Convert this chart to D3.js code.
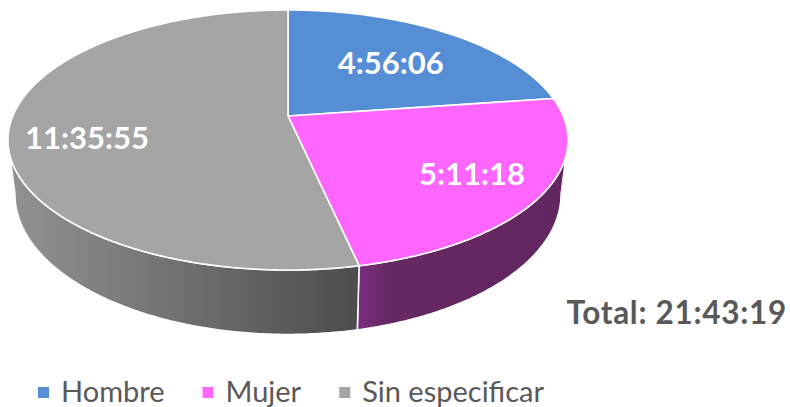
<!DOCTYPE html>
<html>
<head>
<meta charset="utf-8">
<script src="https://cdn.jsdelivr.net/npm/d3@7"></script>
<style>
  body { margin: 0; background: #fff; }
  svg { display: block; }
</style>
</head>
<body>
<div id="chart"></div>
<script>
// data
const categories = ["Hombre", "Mujer", "Sin especificar"];
const durations = ["4:56:06", "5:11:18", "11:35:55"];
const topColors = ["#558ED5", "#FF66FF", "#A5A5A5"];
// wall shading (left -> right)
const wallStops = [
  [[0, "#3c6aa3"], [1, "#2f5585"]],
  [[0, "#7b2e80"], [0.15, "#662863"], [1, "#612660"]],
  [[0, "#939393"], [1, "#4c4c4c"]]
];

const width = 790, height = 407;

// perspective ellipse for the pie top
const cx = 288, cy = 116,
      k = 0.1846,      // perspective factor
      A = 275.2,       // horizontal radius
      B = 125.6,       // vertical radius
      D = 52.5,        // thickness
      lean = 0.975;    // bottom edge slightly narrower

// label placement: radial fraction + extra dy
const labelPos = [{r: 0.62, dy: 1.5}, {r: 0.75, dy: -1}, {r: 0.724, dy: 12}];

function toSec(s) {
  const p = s.split(":").map(Number);
  return p[0] * 3600 + p[1] * 60 + p[2];
}
function fmt(sec) {
  const h = Math.floor(sec / 3600), m = Math.floor(sec % 3600 / 60), s = sec % 60;
  return h + ":" + String(m).padStart(2, "0") + ":" + String(s).padStart(2, "0");
}

const values = durations.map(toSec);
const total = d3.sum(values);

function proj(theta, r, bottom) {
  const u = r * Math.sin(theta), v = -r * Math.cos(theta);
  const w = 1 - k * v;
  let x = cx + A * u / w, y = cy + B * v / w;
  if (bottom) { x = cx + (x - cx) * lean; y += D / w; }
  return [x, y];
}
function arcPts(a0, a1, bottom) {
  const n = Math.max(4, Math.ceil(Math.abs(a1 - a0) / 0.01));
  return d3.range(n + 1).map(i => proj(a0 + (a1 - a0) * i / n, 1, bottom));
}

const svg = d3.select("#chart")
  .append("svg")
    .attr("width", width)
    .attr("height", height);

svg.append("rect").attr("width", width).attr("height", height).attr("fill", "#fff");

const pie = d3.pie().sort(null).startAngle(0).endAngle(2 * Math.PI);
const arcs = pie(values);

const line = d3.line();
const defs = svg.append("defs");

// visible part of the outer wall
const th1 = Math.acos(-k), th2 = 2 * Math.PI - th1;

arcs.forEach((d, i) => {
  const s = Math.max(d.startAngle, th1), e = Math.min(d.endAngle, th2);
  if (s >= e) return;
  const top = arcPts(s, e, false);
  const bot = arcPts(e, s, true);
  const xs = top.concat(bot).map(p => p[0]);
  const g = defs.append("linearGradient")
    .attr("id", "wall" + i)
    .attr("gradientUnits", "userSpaceOnUse")
    .attr("x1", d3.min(xs)).attr("x2", d3.max(xs))
    .attr("y1", 0).attr("y2", 0);
  g.selectAll("stop").data(wallStops[i]).enter().append("stop")
    .attr("offset", s => s[0]).attr("stop-color", s => s[1]);
  svg.append("path")
    .attr("d", line(top.concat(bot)) + "Z")
    .attr("fill", "url(#wall" + i + ")")
    .attr("stroke", "#fff")
    .attr("stroke-width", 1.5)
    .attr("stroke-linejoin", "round");
});

// tops
svg.selectAll("path.top")
  .data(arcs)
  .enter()
  .append("path")
    .attr("class", "top")
    .attr("d", d => line([[cx, cy]].concat(arcPts(d.startAngle, d.endAngle, false))) + "Z")
    .attr("fill", (d, i) => topColors[i])
    .attr("stroke", "#fff")
    .attr("stroke-width", 1.6)
    .attr("stroke-linejoin", "round");

// value labels
svg.selectAll("text.val")
  .data(arcs)
  .enter()
  .append("text")
    .attr("class", "val")
    .attr("x", (d, i) => proj((d.startAngle + d.endAngle) / 2, labelPos[i].r, false)[0])
    .attr("y", (d, i) => proj((d.startAngle + d.endAngle) / 2, labelPos[i].r, false)[1] + labelPos[i].dy)
    .attr("dy", "0.36em")
    .attr("text-anchor", "middle")
    .style("font-family", "Lato, 'Open Sans', sans-serif")
    .style("font-weight", "bold")
    .style("font-size", "31px")
    .attr("fill", "#fff")
    .text((d, i) => durations[i]);

// total
svg.append("text")
  .attr("x", 787)
  .attr("y", 324)
  .attr("text-anchor", "end")
  .style("font-family", "Lato, 'Open Sans', sans-serif")
  .style("font-weight", "bold")
  .style("font-size", "31.5px")
  .style("letter-spacing", "0.7px")
  .attr("fill", "#595959")
  .text("Total: " + fmt(total));

// legend
const legend = svg.append("g");
let lx = 38;
categories.forEach((c, i) => {
  legend.append("rect")
    .attr("x", lx).attr("y", 387)
    .attr("width", 11).attr("height", 11)
    .attr("fill", topColors[i]);
  const t = legend.append("text")
    .attr("x", lx + 23)
    .attr("y", 402)
    .style("font-family", "Lato, 'Open Sans', sans-serif")
    .style("font-size", "29px")
    .attr("fill", "#595959")
    .text(c);
  lx += 23 + t.node().getComputedTextLength() + 38;
});
</script>
</body>
</html>
